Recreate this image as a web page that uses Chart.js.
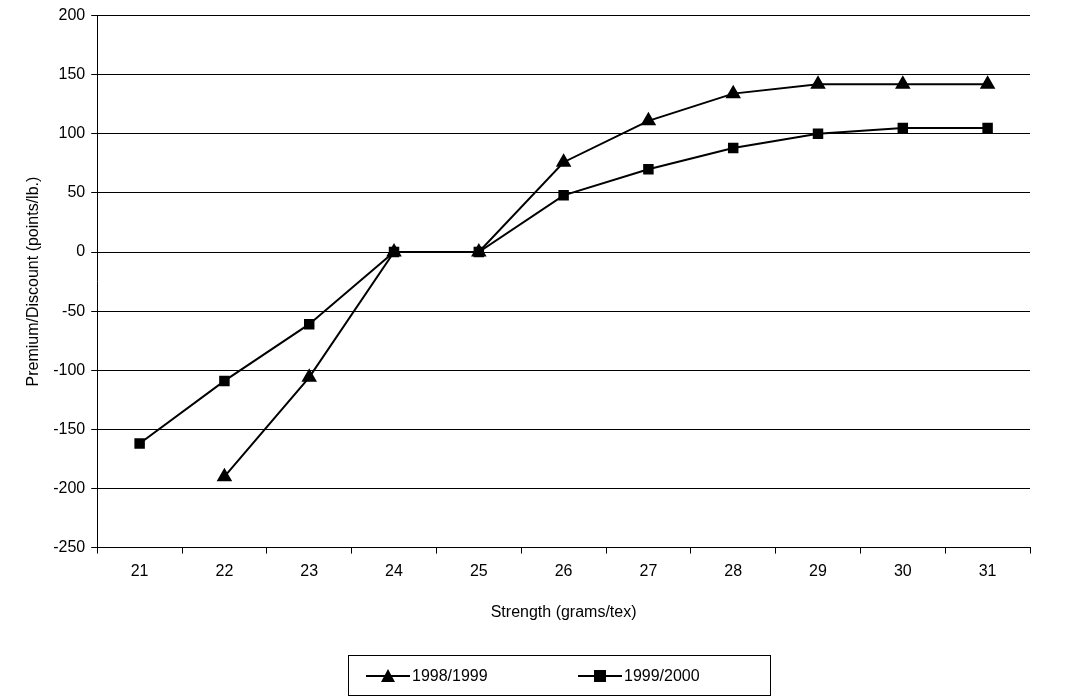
<!DOCTYPE html>
<html><head><meta charset="utf-8">
<script src="https://cdn.jsdelivr.net/npm/chart.js@4"></script>
<style>html,body{margin:0;padding:0;background:#fff}</style>
</head><body>
<div style="width:1074px;height:696px"><canvas id="c"></canvas></div>
<script>
const categories=['21','22','23','24','25','26','27','28','29','30','31'];
const series1998=[null,-190,-106,0,0,76,111,134,142,142,142];
const series1999=[-162,-109,-61,0,0,48,70,88,100,105,105];
const yTicks=[200,150,100,50,0,-50,-100,-150,-200,-250];
const legendPlugin={id:'boxLegend',afterDraw(ch){
  const ctx=ch.ctx;ctx.save();
  ctx.strokeStyle='#000';ctx.lineWidth=1;ctx.strokeRect(348.5,655.5,422,40);
  const items=[['1998/1999','triangle',366],['1999/2000','rect',578]];
  ctx.font='16px Arial, "Liberation Sans"';ctx.textBaseline='middle';ctx.fillStyle='#000';
  items.forEach(([t,s,x])=>{
    const y=676;ctx.beginPath();ctx.moveTo(x,y);ctx.lineTo(x+44,y);ctx.lineWidth=2;ctx.stroke();
    const cx=x+22;ctx.beginPath();
    if(s==='triangle'){ctx.moveTo(cx,y-7);ctx.lineTo(cx+7,y+6);ctx.lineTo(cx-7,y+6);ctx.closePath();}
    else ctx.rect(cx-6,y-6,12,12);
    ctx.fill();ctx.fillText(t,x+46,y+1);
  });
  ctx.restore();}};
new Chart(document.getElementById('c'),{type:'line',
 data:{labels:categories,datasets:[
  {label:'1998/1999',data:series1998,borderColor:'#000',backgroundColor:'#000',borderWidth:2,pointStyle:'triangle',pointRadius:7,tension:0},
  {label:'1999/2000',data:series1999,borderColor:'#000',backgroundColor:'#000',borderWidth:2,pointStyle:'rect',pointRadius:6,tension:0}]},
 options:{responsive:true,maintainAspectRatio:false,animation:false,
  layout:{padding:{top:10,right:44,bottom:70,left:20}},
  plugins:{legend:{display:false},tooltip:{enabled:false}},
  scales:{
   x:{offset:true,grid:{display:true,drawOnChartArea:false,offset:true,color:'#000',tickLength:6},border:{color:'#000'},
      ticks:{color:'#000',font:{size:16,family:'Arial, "Liberation Sans"'},padding:8},
      title:{display:true,text:'Strength (grams/tex)',color:'#000',font:{size:16,family:'Arial, "Liberation Sans"'},padding:{top:14}}},
   y:{min:-250,max:200,afterBuildTicks(a){a.ticks=yTicks.map(v=>({value:v}));},
      grid:{color:'#000',tickLength:6},border:{color:'#000'},
      ticks:{color:'#000',font:{size:16,family:'Arial, "Liberation Sans"'},padding:6},
      title:{display:true,text:'Premium/Discount (points/lb.)',color:'#000',font:{size:16,family:'Arial, "Liberation Sans"'}}}}},
 plugins:[legendPlugin]});
</script></body></html>
